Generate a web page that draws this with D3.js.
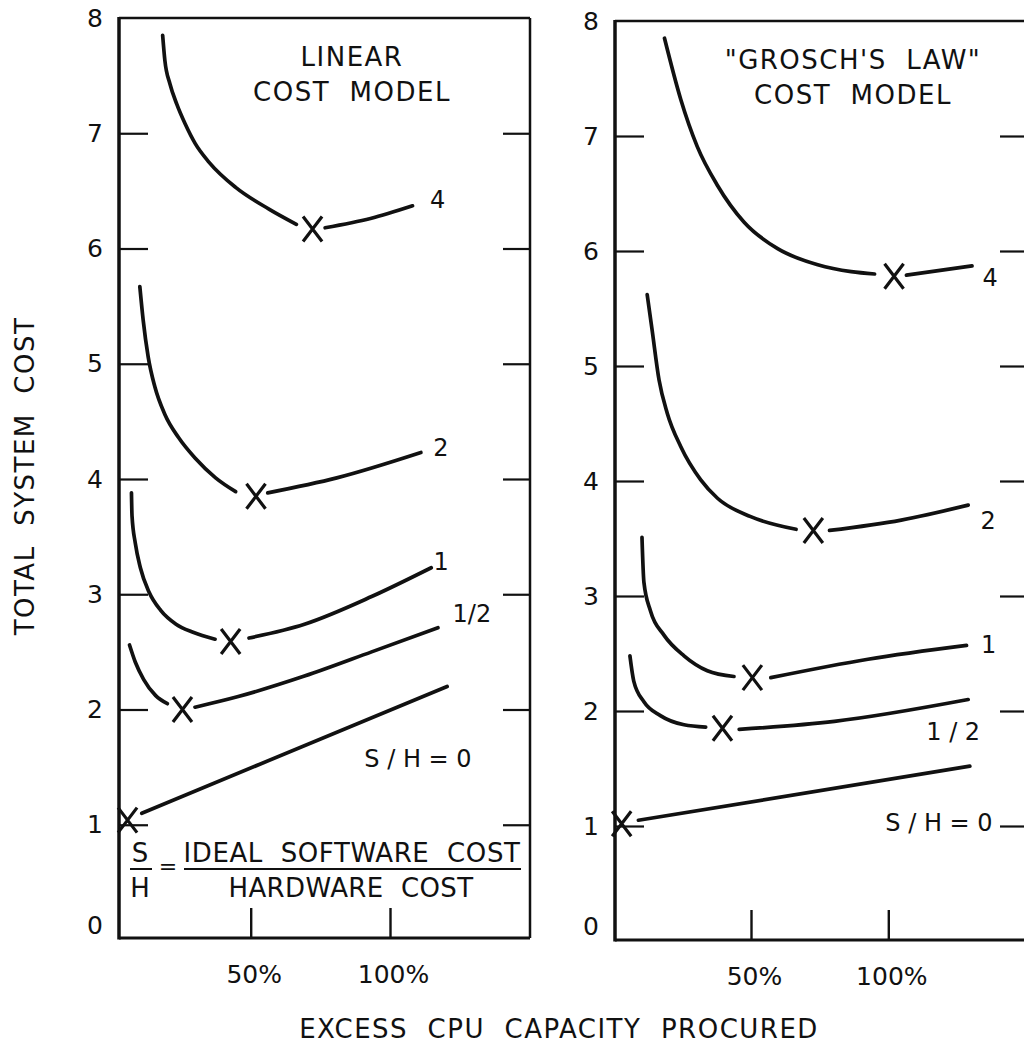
<!DOCTYPE html>
<html><head><meta charset="utf-8">
<script src="https://cdn.jsdelivr.net/npm/d3@7"></script>
<style>
html,body{margin:0;padding:0;background:#fff;}
svg text{font-family:"DejaVu Sans",sans-serif;fill:#111;white-space:pre;}
</style></head><body>
<svg id="chart" width="1024" height="1047"></svg>
<script>
// ---------------- data ----------------
const yTickValues = [0,1,2,3,4,5,6,7,8];
const xTickValues = [50,100];
const xTickLabels = ["50%","100%"];
const seriesLabels = ["4","2","1","1/2","0"];
const panelTitles = [["LINEAR","COST  MODEL"],["\"GROSCH'S  LAW\"","COST  MODEL"]];
const axisTitleY = "TOTAL  SYSTEM  COST";
const axisTitleX = "EXCESS  CPU  CAPACITY  PROCURED";

// Linear cost model: [excess %, total cost]
const linS4fall = [[18.4,7.85],[19.2,7.63],[21,7.43],[23.5,7.25],[26.5,7.08],[30.1,6.91],[35,6.75],[44.6,6.53],[56.7,6.34],[66.4,6.21]];
const linS4min  = [72.2,6.17];
const linS4rise = [[76.7,6.18],[93,6.26],[108.1,6.37]];
const linS2fall = [[10.2,5.67],[11.4,5.38],[13.2,5.06],[15.6,4.8],[19.2,4.56],[24.1,4.36],[30.1,4.18],[37.4,4.01],[44.6,3.89]];
const linS2min  = [51.9,3.85];
const linS2rise = [[56.1,3.88],[80.9,4.01],[111.1,4.23]];
const linS1fall = [[7.2,3.88],[7.4,3.68],[8.6,3.44],[10.4,3.23],[13.5,3.02],[17.7,2.86],[23.2,2.74],[29.3,2.67],[37.2,2.61]];
const linS1min  = [42.8,2.59];
const linS1rise = [[49.4,2.62],[69.3,2.74],[93.4,2.98],[114.8,3.23]];
const linShfall = [[6.5,2.56],[8.6,2.41],[11.6,2.26],[15.9,2.12],[20.1,2.05]];
const linShmin  = [25.5,2.0];
const linShrise = [[30,2.02],[45.2,2.11],[69.3,2.29],[93.4,2.5],[117.2,2.71]];
const linS0min  = [5.8,1.04];
const linS0rise = [[10.9,1.1],[120.5,2.2]];

// "Grosch's law" cost model
const groS4fall = [[18.5,7.85],[24.4,7.32],[30.4,6.91],[37.8,6.57],[47.5,6.25],[59.7,6.02],[74.3,5.88],[86.5,5.82],[95,5.8]];
const groS4min  = [102.1,5.78];
const groS4rise = [[106.6,5.79],[130.5,5.87]];
const groS2fall = [[12.2,5.62],[14,5.31],[16.5,4.88],[19.5,4.59],[24.4,4.3],[31.7,4.01],[37.8,3.85],[49.9,3.69],[66.4,3.58]];
const groS2min  = [72.7,3.57];
const groS2rise = [[78.6,3.57],[104.7,3.66],[129.1,3.79]];
const groS1fall = [[10.3,3.51],[11,3.12],[13.4,2.87],[18.3,2.66],[25.6,2.48],[34.1,2.35],[43.8,2.3]];
const groS1min  = [50.5,2.29];
const groS1rise = [[57.2,2.29],[92.6,2.45],[128.5,2.57]];
const groShfall = [[5.9,2.48],[7.3,2.26],[11,2.08],[17,1.96],[25.6,1.88],[33.5,1.86]];
const groShmin  = [39.6,1.85];
const groShrise = [[45.7,1.84],[80.4,1.91],[129.1,2.1]];
const groS0min  = [2.9,1.02];
const groS0rise = [[9,1.05],[129.7,1.52]];

// ---------------- layout ----------------
const INK = "#111";
const FONT = "DejaVu Sans, sans-serif";
const svg = d3.select("#chart");
svg.append("rect").attr("width",1024).attr("height",1047).attr("fill","#fff");

const panels = [
  { left:119, right:530, top:18, bottom:940, frameBottom:938, xRange:[111.4,390],
    titleX:352, titleY:[66,101], title:panelTitles[0],
    series:[
      {label:seriesLabels[0], fall:linS4fall, min:linS4min, rise:linS4rise, off:[25,-6]},
      {label:seriesLabels[1], fall:linS2fall, min:linS2min, rise:linS2rise, off:[20,-5]},
      {label:seriesLabels[2], fall:linS1fall, min:linS1min, rise:linS1rise, off:[10,-6]},
      {label:seriesLabels[3], fall:linShfall, min:linShmin, rise:linShrise, off:[34,-14]},
      {label:null, fall:[], min:linS0min, rise:linS0rise}
    ],
    zeroLabel:{x:418,y:758,text:"S / H = 0"}
  },
  { left:615, right:1027, top:21, bottom:941, frameBottom:940, xRange:[613.7,888.3],
    titleX:853, titleY:[69,104], title:panelTitles[1],
    series:[
      {label:seriesLabels[0], fall:groS4fall, min:groS4min, rise:groS4rise, off:[18,11]},
      {label:seriesLabels[1], fall:groS2fall, min:groS2min, rise:groS2rise, off:[20,15]},
      {label:seriesLabels[2], fall:groS1fall, min:groS1min, rise:groS1rise, off:[22,-1]},
      {label:"1 / 2",         fall:groShfall, min:groShmin, rise:groShrise, off:[-15,32]},
      {label:null, fall:[], min:groS0min, rise:groS0rise}
    ],
    zeroLabel:{x:939,y:822,text:"S / H = 0"}
  }
];

function txt(g, x, y, s, size, opts={}){
  const t = g.append("text").attr("x",x).attr("y",y).attr("dy","0.36em")
    .attr("text-anchor",opts.anchor||"middle").attr("font-size",size)
    .attr("font-family",FONT).attr("fill",INK).text(s);
  if(opts.ls) t.attr("letter-spacing",opts.ls);
  return t;
}

panels.forEach(p=>{
  const g = svg.append("g");
  const x = d3.scaleLinear().domain([0,100]).range(p.xRange);
  const y = d3.scaleLinear().domain([0,8]).range([p.bottom,p.top]);
  const fb = p.frameBottom;

  // frame
  g.append("line").attr("x1",p.left).attr("x2",p.right).attr("y1",p.top).attr("y2",p.top).attr("stroke",INK).attr("stroke-width",2.5);
  g.append("line").attr("x1",p.right).attr("x2",p.right).attr("y1",p.top).attr("y2",fb).attr("stroke",INK).attr("stroke-width",2.5);
  g.append("line").attr("x1",p.left).attr("x2",p.right).attr("y1",fb).attr("y2",fb).attr("stroke",INK).attr("stroke-width",3);
  g.append("line").attr("x1",p.left).attr("x2",p.left).attr("y1",p.top-1).attr("y2",fb+1.5).attr("stroke",INK).attr("stroke-width",3.5);

  // left axis
  const ag = g.append("g").attr("transform",`translate(${p.left},0)`)
    .call(d3.axisLeft(y).tickValues(yTickValues).tickSizeInner(-29).tickSizeOuter(0).tickPadding(14).tickFormat(d3.format("d")));
  ag.select(".domain").remove();
  ag.selectAll(".tick line").attr("stroke",INK).attr("stroke-width",2.2);
  ag.selectAll(".tick").filter(d=>d===0||d===8).select("line").remove();
  ag.selectAll(".tick text").attr("font-size",25).attr("font-family",FONT).attr("fill",INK)
    .attr("text-anchor","middle").attr("x",-24);
  ag.selectAll(".tick").filter(d=>d===0).select("text").attr("y",-15);
  ag.attr("font-size",null).attr("font-family",null);

  // right ticks
  const rg = g.append("g").attr("transform",`translate(${p.right},0)`)
    .call(d3.axisRight(y).tickValues(yTickValues.filter(v=>v>0&&v<8)).tickSizeInner(-27).tickSizeOuter(0).tickFormat(""));
  rg.select(".domain").remove();
  rg.selectAll(".tick line").attr("stroke",INK).attr("stroke-width",2.2);

  // bottom axis
  const bg = g.append("g").attr("transform",`translate(0,${fb})`)
    .call(d3.axisBottom(x).tickValues(xTickValues).tickSizeInner(-30).tickSizeOuter(0).tickPadding(27)
      .tickFormat((d,i)=>xTickLabels[i]));
  bg.select(".domain").remove();
  bg.selectAll(".tick line").attr("stroke",INK).attr("stroke-width",2.4);
  bg.selectAll(".tick text").attr("font-size",25).attr("font-family",FONT).attr("fill",INK).attr("dx",3);
  bg.attr("font-size",null).attr("font-family",null);

  // title
  p.title.forEach((s,i)=>txt(g,p.titleX,p.titleY[i]-9,s,26,{ls:1.5}));

  // curves
  const line = d3.line().x(d=>x(d[0])).y(d=>y(d[1])).curve(d3.curveMonotoneX);
  p.series.forEach(s=>{
    [s.fall,s.rise].forEach(arr=>{
      if(arr.length<2) return;
      g.append("path").attr("d",line(arr)).attr("fill","none").attr("stroke",INK)
        .attr("stroke-width",3.7).attr("stroke-linecap","round");
    });
    g.append("path").attr("transform",`translate(${x(s.min[0])},${y(s.min[1])})`)
      .attr("d","M-9.5,-12.5L9.5,12.5M9.5,-12.5L-9.5,12.5")
      .attr("fill","none").attr("stroke",INK).attr("stroke-width",3.2);
    if(s.label){
      const e = s.rise[s.rise.length-1];
      txt(g, x(e[0])+s.off[0], y(e[1])+s.off[1], s.label, 24);
    }
  });
  txt(g,p.zeroLabel.x,p.zeroLabel.y,p.zeroLabel.text,24);
});

// S/H definition (left panel)
const dg = svg.append("g");
txt(dg,140,853,"S",26);
dg.append("line").attr("x1",130).attr("x2",152).attr("y1",869).attr("y2",869).attr("stroke",INK).attr("stroke-width",2);
txt(dg,140,888,"H",26);
txt(dg,168,866,"=",22);
txt(dg,352,853,"IDEAL  SOFTWARE  COST",26,{ls:0.6});
dg.append("line").attr("x1",184).attr("x2",521).attr("y1",869).attr("y2",869).attr("stroke",INK).attr("stroke-width",2);
txt(dg,351,888,"HARDWARE  COST",26,{ls:0.4});

// axis titles
svg.append("text").attr("transform","translate(25,476) rotate(-90)").attr("dy","0.36em")
  .attr("text-anchor","middle").attr("font-size",26).attr("font-family",FONT).attr("fill",INK)
  .attr("letter-spacing",1.5).text(axisTitleY);
txt(svg,559,1029,axisTitleX,26,{ls:1.5});
</script>
</body></html>
